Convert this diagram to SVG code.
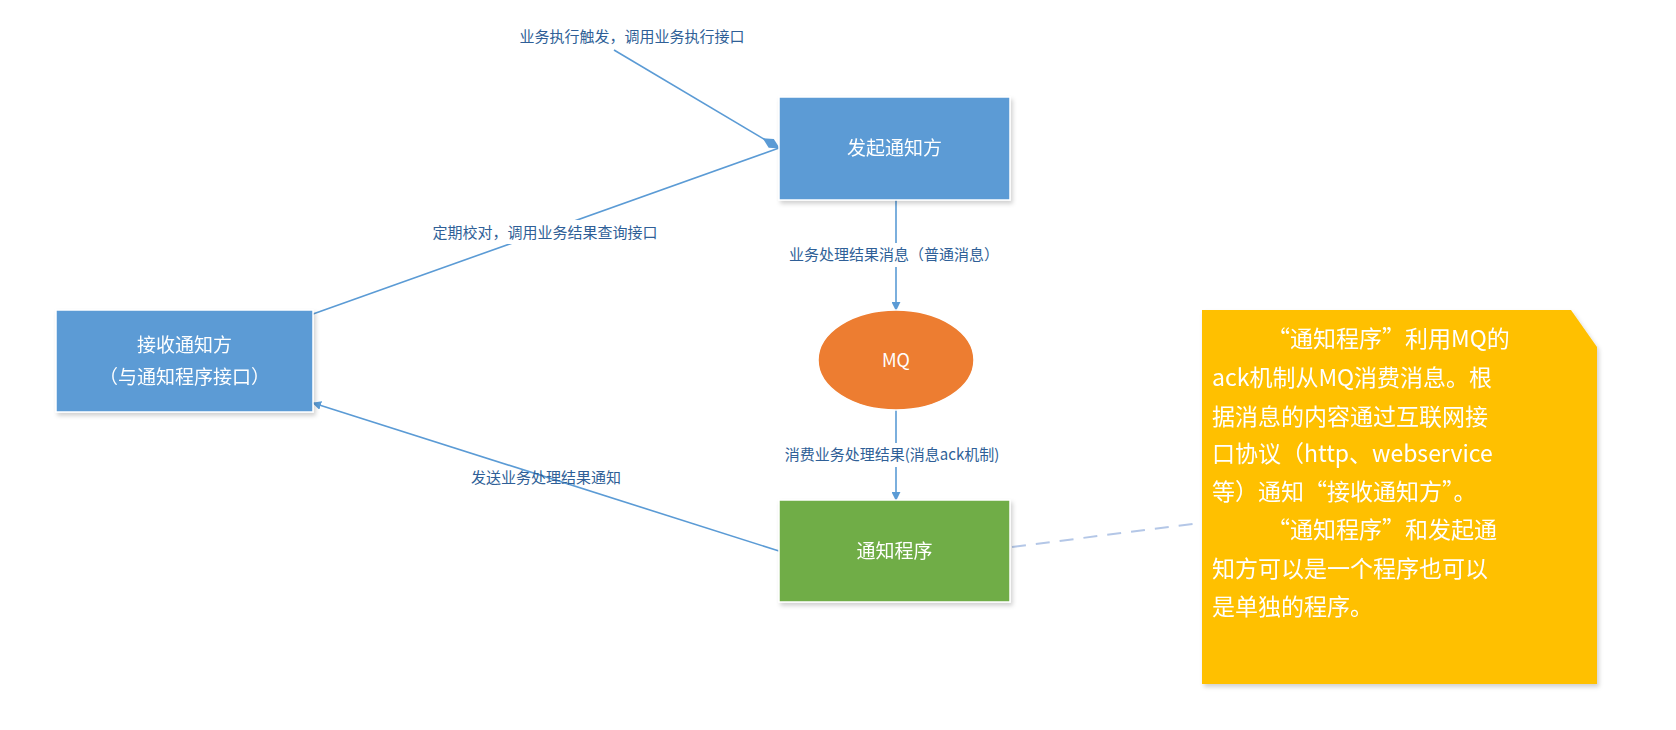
<svg xmlns="http://www.w3.org/2000/svg" width="1676" height="730" viewBox="0 0 1676 730">
<style>
.n{stroke:#ffffff;stroke-width:1.5}
.t{font-family:"Noto Sans CJK SC","Liberation Sans",sans-serif;fill:#ffffff;text-anchor:middle}
.l{font-family:"Noto Sans CJK SC","Liberation Sans",sans-serif;fill:#2f5f97;font-size:15px;text-anchor:middle}
.c{stroke:#5b9bd5;stroke-width:1.6;fill:none}
.bg{fill:#ffffff}
.note{font-family:"Noto Sans CJK SC","Liberation Sans",sans-serif;fill:#ffffff;font-size:23px}
</style>
<defs>
<marker id="a" viewBox="0 0 10 10" refX="9" refY="5" markerWidth="9" markerHeight="9" orient="auto" markerUnits="userSpaceOnUse"><path d="M0,0L10,5L0,10z" fill="#5b9bd5"/></marker>
<marker id="d" viewBox="0 0 20 10" refX="19" refY="5" markerWidth="20" markerHeight="12" orient="auto" markerUnits="userSpaceOnUse"><path d="M0,5L10,0L20,5L10,10z" fill="#5b9bd5"/></marker>
<filter id="s" x="-10%" y="-10%" width="130%" height="130%"><feDropShadow dx="2" dy="3" stdDeviation="2" flood-color="#000" flood-opacity="0.18"/></filter>
</defs>
<g id="connectors">
<line class="c" x1="614" y1="50" x2="779" y2="148" marker-end="url(#d)"/>
<line class="c" x1="313" y1="314" x2="779" y2="148"/>
<line class="c" x1="896" y1="200" x2="896" y2="310" marker-end="url(#a)"/>
<line class="c" x1="896" y1="410" x2="896" y2="500" marker-end="url(#a)"/>
<line class="c" x1="779" y1="551" x2="313" y2="403" marker-end="url(#a)"/>
<line x1="1012" y1="547" x2="1200" y2="523" stroke="#b4c7e7" stroke-width="2" stroke-dasharray="14,10"/>
<rect class="bg" x="398" y="220" width="294" height="24"/>
<text class="l" x="632" y="42">业务执行触发，调用业务执行接口</text>
<text class="l" x="545" y="238">定期校对，调用业务结果查询接口</text>
<rect class="bg" x="755" y="243" width="282" height="24"/>
<text class="l" x="894" y="260">业务处理结果消息（普通消息）</text>
<rect class="bg" x="750" y="443" width="290" height="24"/>
<text class="l" x="892" y="460">消费业务处理结果(消息ack机制)</text>
<text class="l" x="546" y="483">发送业务处理结果通知</text>
</g>
<g id="n1" filter="url(#s)"><rect class="n" x="779" y="97" width="231" height="103" fill="#5b9bd5"/><text class="t" x="894.5" y="155" font-size="19">发起通知方</text></g>
<g id="n2" filter="url(#s)"><rect class="n" x="56" y="310" width="257" height="102" fill="#5b9bd5"/><text class="t" x="184.5" y="352" font-size="19">接收通知方</text><text class="t" x="184.5" y="384" font-size="19">（与通知程序接口）</text></g>
<g id="mq"><ellipse cx="896" cy="360" rx="78" ry="50" fill="#ed7d31" stroke="#ffffff" stroke-width="1.5"/><text class="t" x="896" y="367" font-size="18">MQ</text></g>
<g id="n3" filter="url(#s)"><rect class="n" x="779" y="500" width="231" height="102" fill="#70ad47"/><text class="t" x="894.5" y="558" font-size="19">通知程序</text></g>
<g id="note" filter="url(#s)"><path d="M1202,310H1571L1597,347V684H1202z" fill="#ffc000"/>
<text class="note" x="1267" y="347">“通知程序”利用MQ的</text>
<text class="note" x="1212" y="386">ack机制从MQ消费消息。根</text>
<text class="note" x="1212" y="425">据消息的内容通过互联网接</text>
<text class="note" x="1212" y="462">口协议（http、webservice</text>
<text class="note" x="1212" y="500">等）通知“接收通知方”。</text>
<text class="note" x="1267" y="538">“通知程序”和发起通</text>
<text class="note" x="1212" y="577">知方可以是一个程序也可以</text>
<text class="note" x="1212" y="615">是单独的程序。</text>
</g>
</svg>
